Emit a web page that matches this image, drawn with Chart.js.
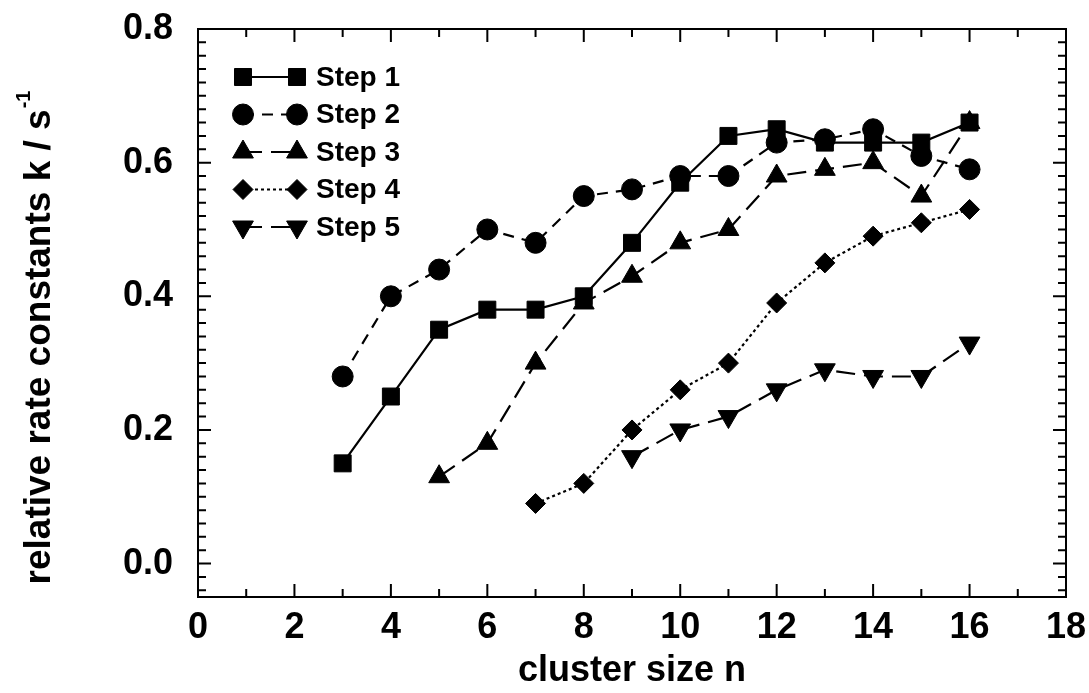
<!DOCTYPE html>
<html>
<head>
<meta charset="utf-8">
<title>relative rate constants</title>
<script src="https://cdn.jsdelivr.net/npm/chart.js@4.4.1/dist/chart.umd.min.js"></script>
<style>
    html, body { margin: 0; padding: 0; background: #fff; }
    #wrap { position: relative; width: 1089px; height: 693px; }
</style>
</head>
<body>
<div id="wrap"><canvas id="rateChart"></canvas></div>
<script>
// values (cluster size n -> k)
const clusterSizes = [3, 4, 5, 6, 7, 8, 9, 10, 11, 12, 13, 14, 15, 16];
const step1 = [0.15, 0.25, 0.35, 0.38, 0.38, 0.40, 0.48, 0.57, 0.64, 0.65, 0.63, 0.63, 0.63, 0.66];
const step2 = [0.28, 0.40, 0.44, 0.50, 0.48, 0.55, 0.56, 0.58, 0.58, 0.63, 0.635, 0.65, 0.61, 0.59];
const step3 = [0.13, 0.18, 0.30, 0.39, 0.43, 0.48, 0.50, 0.58, 0.59, 0.60, 0.55, 0.66];
const step4 = [0.09, 0.12, 0.20, 0.26, 0.30, 0.39, 0.45, 0.49, 0.51, 0.53];
const step5 = [0.16, 0.20, 0.22, 0.26, 0.29, 0.28, 0.28, 0.33];
const seriesNames = ['Step 1', 'Step 2', 'Step 3', 'Step 4', 'Step 5'];
const xTicks = [0, 2, 4, 6, 8, 10, 12, 14, 16, 18];
const yTicks = [0.0, 0.2, 0.4, 0.6, 0.8];

const FONT = "'Liberation Sans', Arial, Helvetica, sans-serif";

// each series ends at n = 16, so line it up with the tail of clusterSizes
function toPoints(values) {
    const xs = clusterSizes.slice(clusterSizes.length - values.length);
    return values.map((v, i) => ({ x: xs[i], y: v }));
}

function makeSet(label, values, style, radius, rotation, dash) {
    return {
        label: label,
        data: toPoints(values),
        borderColor: '#000',
        backgroundColor: '#000',
        borderWidth: 2.2,
        borderDash: dash,
        pointStyle: style,
        pointRadius: radius,
        pointHoverRadius: radius,
        pointRotation: rotation,
        pointBackgroundColor: '#000',
        pointBorderColor: '#000',
        pointBorderWidth: 1,
        tension: 0,
        fill: false
    };
}

// frame, inward ticks on all four sides, y title with superscript
const framePlugin = {
    id: 'framePlugin',
    afterDraw(chart) {
        const ctx = chart.ctx;
        const area = chart.chartArea;
        const xs = chart.scales.x;
        const ys = chart.scales.y;
        ctx.save();
        ctx.strokeStyle = '#000';
        ctx.lineWidth = 2;
        ctx.setLineDash([]);
        ctx.strokeRect(area.left, area.top, area.right - area.left, area.bottom - area.top);

        ctx.beginPath();
        for (let n = 0; n <= 18; n++) {
            const px = xs.getPixelForValue(n);
            const len = n % 2 === 0 ? 13 : 8;
            ctx.moveTo(px, area.bottom); ctx.lineTo(px, area.bottom - len);
            ctx.moveTo(px, area.top); ctx.lineTo(px, area.top + len);
        }
        for (let i = -2; i <= 40; i++) {
            const py = ys.getPixelForValue(i * 0.02);
            const len = i % 10 === 0 ? 13 : 8;
            ctx.moveTo(area.left, py); ctx.lineTo(area.left + len, py);
            ctx.moveTo(area.right, py); ctx.lineTo(area.right - len, py);
        }
        ctx.stroke();

        // y axis title
        ctx.translate(40, 338);
        ctx.rotate(-Math.PI / 2);
        ctx.fillStyle = '#000';
        ctx.textBaseline = 'middle';
        const main = 'relative rate constants k / s';
        ctx.font = 'bold 20px ' + FONT;
        const supW = ctx.measureText('-1').width;
        ctx.font = 'bold 37px ' + FONT;
        const mainW = ctx.measureText(main).width;
        const start = -(mainW + supW) / 2;
        ctx.textAlign = 'left';
        ctx.fillText(main, start, 0);
        ctx.font = 'bold 20px ' + FONT;
        ctx.fillText('-1', start + mainW + 1, -16);
        ctx.restore();
    }
};

// legend: line segment with a marker at each end, then the label
const legendPlugin = {
    id: 'legendPlugin',
    afterDraw(chart) {
        const ctx = chart.ctx;
        ctx.save();
        chart.data.datasets.forEach((ds, i) => {
            const y = 77 + i * 37.5;
            const x1 = 243, x2 = 297;
            ctx.strokeStyle = '#000';
            ctx.fillStyle = '#000';
            ctx.lineWidth = ds.borderWidth;
            ctx.setLineDash(ds.borderDash || []);
            ctx.beginPath();
            ctx.moveTo(x1, y);
            ctx.lineTo(x2, y);
            ctx.stroke();
            ctx.setLineDash([]);
            ctx.lineWidth = 1;
            const opts = { pointStyle: ds.pointStyle, radius: ds.pointRadius, rotation: ds.pointRotation || 0, borderWidth: 1 };
            Chart.helpers.drawPoint(ctx, opts, x1, y);
            Chart.helpers.drawPoint(ctx, opts, x2, y);
            ctx.font = 'bold 28px ' + FONT;
            ctx.textAlign = 'left';
            ctx.textBaseline = 'middle';
            ctx.fillText(ds.label, 316, y + 1);
        });
        ctx.restore();
    }
};

const config = {
    type: 'line',
    data: {
        datasets: [
            makeSet(seriesNames[0], step1, 'rect', 12, 0, []),
            makeSet(seriesNames[1], step2, 'circle', 10.5, 0, [11, 8]),
            makeSet(seriesNames[2], step3, 'triangle', 12, 0, [19, 9]),
            makeSet(seriesNames[3], step4, 'rectRot', 10, 0, [3, 3]),
            makeSet(seriesNames[4], step5, 'triangle', 12, 180, [19, 9])
        ]
    },
    options: {
        responsive: false,
        animation: false,
        events: [],
        layout: { padding: { top: 29, right: 23, left: 0, bottom: 0 } },
        plugins: {
            legend: { display: false },
            tooltip: { enabled: false }
        },
        scales: {
            x: {
                type: 'linear',
                min: 0,
                max: 18,
                afterBuildTicks: (scale) => { scale.ticks = xTicks.map(v => ({ value: v })); },
                afterFit: (scale) => { scale.height = 96; scale.paddingLeft = 0; scale.paddingRight = 0; },
                grid: { display: false, drawTicks: false },
                border: { display: false },
                ticks: {
                    padding: 9,
                    color: '#000',
                    maxRotation: 0,
                    font: { family: FONT, size: 36, weight: 'bold' },
                    callback: (v) => String(v)
                },
                title: {
                    display: true,
                    text: 'cluster size n',
                    color: '#000',
                    padding: { top: 0, bottom: 0 },
                    font: { family: FONT, size: 36, weight: 'bold' }
                }
            },
            y: {
                type: 'linear',
                min: -0.05,
                max: 0.8,
                afterBuildTicks: (scale) => { scale.ticks = yTicks.map(v => ({ value: v })); },
                afterFit: (scale) => { scale.width = 198; scale.paddingTop = 0; scale.paddingBottom = 0; },
                grid: { display: false, drawTicks: false },
                border: { display: false },
                ticks: {
                    padding: 25,
                    color: '#000',
                    font: { family: FONT, size: 36, weight: 'bold' },
                    callback: (v) => Number(v).toFixed(1)
                }
            }
        }
    },
    plugins: [framePlugin, legendPlugin]
};

const canvas = document.getElementById('rateChart');
canvas.width = 1089;
canvas.height = 693;
var rateChart = new Chart(canvas, config);
</script>
</body>
</html>
